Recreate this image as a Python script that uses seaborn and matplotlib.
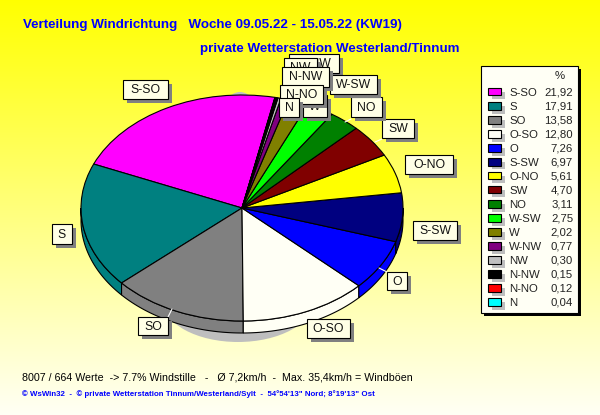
import numpy as np
import matplotlib
matplotlib.use("Agg")
import matplotlib.pyplot as plt
from matplotlib.patches import Rectangle, Ellipse
import seaborn as sns

# Data
directions = ["S-SO", "S", "SO", "O-SO", "O", "S-SW", "O-NO", "SW", "NO",
              "W-SW", "W", "W-NW", "NW", "N-NW", "N-NO", "N"]
shares = [21.92, 17.91, 13.58, 12.80, 7.26, 6.97, 5.61, 4.70, 3.11,
          2.75, 2.02, 0.77, 0.30, 0.15, 0.12, 0.04]
colors = ["#FF00FF", "#008080", "#808080", "#FFFFF5", "#0000FF", "#000080",
          "#FFFF00", "#800000", "#008000", "#00FF00", "#808000", "#800080",
          "#C0C0C0", "#000000", "#FF0000", "#00FFFF"]

title_1 = "Verteilung Windrichtung   Woche 09.05.22 - 15.05.22 (KW19)"
title_2 = "private Wetterstation Westerland/Tinnum"
info_line = "8007 / 664 Werte  -> 7.7% Windstille   -   Ø 7,2km/h  -  Max. 35,4km/h = Windböen"
copy_line = "© WsWin32  -  © private Wetterstation Tinnum/Westerland/Sylt  -  54°54'13\" Nord; 8°19'13\" Ost"

# Label boxes in pixels: x0, y0, x1, y1, in drawing order
label_boxes = {
    "S-SO": (123, 80, 168, 99), "S": (52, 224, 72, 244), "SO": (138, 317, 168, 335),
    "O-SO": (307, 319, 350, 338), "O": (387, 272, 407, 290), "S-SW": (413, 221, 457, 240),
    "O-NO": (405, 155, 453, 174), "SW": (382, 119, 414, 138), "NO": (351, 97, 382, 117),
    "W-NW": (289, 54, 339, 73), "NW": (284, 58, 317, 77), "W-SW": (330, 75, 377, 94),
    "N-NW": (282, 67, 329, 87), "W": (303, 95, 327, 117), "N-NO": (280, 85, 323, 104),
    "N": (279, 98, 299, 117),
}
leaders = [(168, 317, 172, 309), (351, 119, 345, 122), (382, 139, 375, 142), (387, 272, 379, 268)]

sns.set_theme(style="white")
plt.rcParams["font.family"] = ["Liberation Sans", "DejaVu Sans"]

W, H = 600, 415
fig = plt.figure(figsize=(W / 100, H / 100), dpi=100)

# pixel axes behind the pie, for the gradient and the shadow
back = fig.add_axes([0, 0, 1, 1], zorder=0)
back.set_xlim(0, W)
back.set_ylim(H, 0)
back.axis("off")
grad = np.ones((H, 1, 3))
grad[:, 0, 2] = np.linspace(0, 0.96, H)
back.imshow(grad, extent=(0, W, H, 0), aspect="auto")
back.add_patch(Ellipse((238, 301), 150, 82, color="#BEBEBE", lw=0))
back.add_patch(Ellipse((240, 205), 76, 226, color="#C0C0C0", lw=0))

# Pie
cx, cy, rx, ry = 242, 208, 161, 113
depth = 12 / ry
pie_ax = fig.add_axes([(cx - rx) / W, 1 - (cy + ry) / H, 2 * rx / W, 2 * ry / H], zorder=1)
wedges, _ = pie_ax.pie(shares, colors=colors, startangle=78.2, radius=1,
                       wedgeprops={"edgecolor": "black", "linewidth": 0.8, "zorder": 3})
for w in wedges:
    a0 = max(w.theta1, 180)
    a1 = min(w.theta2, 360)
    if a1 <= a0:
        continue
    t = np.radians(np.linspace(a0, a1, 60))
    xs = np.concatenate([np.cos(t), np.cos(t[::-1])])
    ys = np.concatenate([np.sin(t), np.sin(t[::-1]) - depth])
    pie_ax.fill(xs, ys, facecolor=w.get_facecolor(), edgecolor="black", lw=0.8, zorder=2, clip_on=False)
pie_ax.set_aspect("auto")
pie_ax.set_xlim(-1, 1)
pie_ax.set_ylim(-1, 1)
pie_ax.axis("off")
for w in wedges:
    w.set_clip_on(False)

# pixel axes on top, for texts, labels and legend
top = fig.add_axes([0, 0, 1, 1], zorder=2)
top.set_xlim(0, W)
top.set_ylim(H, 0)
top.axis("off")
top.patch.set_alpha(0)

blue = "#0000FF"
top.text(23, 25, title_1, color=blue, fontsize=9.6, fontweight="bold", va="center")
top.text(200, 49, title_2, color=blue, fontsize=9.6, fontweight="bold", va="center")
top.text(22, 377, info_line, color="black", fontsize=7.7, va="center")
top.text(22, 394, copy_line, color=blue, fontsize=5.7, va="center", fontweight="bold")

for x0, y0, x1, y1 in leaders:
    top.plot([x0, x1], [y0, y1], color="white", lw=0.8, zorder=3)

z = 4
for name, (x0, y0, x1, y1) in label_boxes.items():
    top.add_patch(Rectangle((x0 + 4, y0 + 4), x1 - x0, y1 - y0, color="#808080", lw=0, zorder=z))
    top.add_patch(Rectangle((x0, y0), x1 - x0, y1 - y0, facecolor="#FFFFE6", edgecolor="black", lw=0.8, zorder=z + 0.1))
    top.text((x0 + x1) / 2, (y0 + y1) / 2 + 0.5, name, fontsize=8.8, color="#111111", ha="center", va="center", zorder=z + 0.2)
    z += 1

# Legend
top.add_patch(Rectangle((484, 69), 97, 247, color="black", lw=0, zorder=30))
top.add_patch(Rectangle((481, 66), 97, 247, facecolor="#FFFFF5", edgecolor="black", lw=0.8, zorder=31))
top.text(560, 76, "%", fontsize=8.2, color="#222222", ha="center", va="center", zorder=32)
for i, (name, share, col) in enumerate(zip(directions, shares, colors)):
    y = 92 + i * 14
    top.add_patch(Rectangle((492, y), 13, 7.5, color="#BEBEBE", lw=0, zorder=32))
    top.add_patch(Rectangle((488, y - 4), 13, 7.5, facecolor=col, edgecolor="black", lw=0.8, zorder=33))
    top.text(509, y + 0.7, name, fontsize=8.2, color="#222222", va="center", zorder=33)
    top.text(573, y + 0.7, f"{share:.2f}".replace(".", ","), fontsize=8.2, color="#222222", ha="right", va="center", zorder=33)

fig.savefig("out.png", dpi=100)
